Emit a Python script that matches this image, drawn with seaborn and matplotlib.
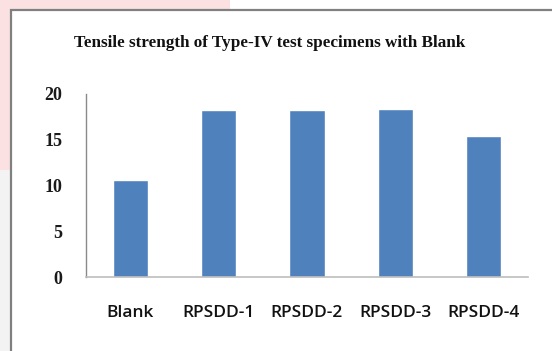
import matplotlib
matplotlib.use("Agg")
import matplotlib.pyplot as plt
import seaborn as sns
import pandas as pd
from matplotlib.patches import Rectangle

categories = ["Blank", "RPSDD-1", "RPSDD-2", "RPSDD-3", "RPSDD-4"]
values = [10.6, 18.2, 18.2, 18.35, 15.4]
yticks = [0, 5, 10, 15, 20]
title = "Tensile strength of Type-IV test specimens with Blank"

df = pd.DataFrame({"cat": categories, "val": values})

sns.set_style("white")
W, H = 552, 351
fig = plt.figure(figsize=(W / 100, H / 100), dpi=100)
fig.patch.set_facecolor("white")

# faint watermark-like background outside the chart frame
fig.patches.append(Rectangle((0, 1 - 10 / H), 230 / W, 10 / H, transform=fig.transFigure,
                             facecolor="#fbe1e1", edgecolor="none", zorder=0))
fig.patches.append(Rectangle((0, 1 - 170 / H), 11 / W, 170 / H, transform=fig.transFigure,
                             facecolor="#fbe1e1", edgecolor="none", zorder=0))
fig.patches.append(Rectangle((0, 0), 11 / W, 1 - 170 / H, transform=fig.transFigure,
                             facecolor="#f3f3f3", edgecolor="none", zorder=0))
# chart frame
fig.patches.append(Rectangle((11 / W, -0.05), 1.1, 1 - 10 / H + 0.05, transform=fig.transFigure,
                             facecolor="white", edgecolor="#808080", linewidth=1.6, zorder=1))

ax = fig.add_axes([86 / W, 1 - 277 / H, (528 - 86) / W, (277 - 94) / H])
ax.set_zorder(2)
ax.patch.set_alpha(0)
sns.barplot(data=df, x="cat", y="val", color="#4F81BD", width=0.4, saturation=1, ax=ax)
ax.set_xlim(-0.5, 4.5)
ax.set_ylim(0, 20)
ax.set_yticks(yticks)
ax.set_xlabel("")
ax.set_ylabel("")
for s in ["top", "right"]:
    ax.spines[s].set_visible(False)
ax.spines["left"].set_color("#8a8a8a")
ax.spines["left"].set_linewidth(1.0)
ax.spines["bottom"].set_color("#bdbdbd")
ax.spines["bottom"].set_linewidth(1.2)
ax.tick_params(axis="both", length=0)
ax.tick_params(axis="y", pad=17)
ax.tick_params(axis="x", pad=20)
for lab in ax.get_yticklabels():
    lab.set_fontfamily("Liberation Serif")
    lab.set_fontweight("bold")
    lab.set_fontsize(13)
    lab.set_color("#1a1a1a")
for lab in ax.get_xticklabels():
    lab.set_fontfamily("Open Sans")
    lab.set_fontweight("semibold")
    lab.set_fontsize(12.5)
    lab.set_color("#111111")

fig.text(270 / W, 1 - 43 / H, title, ha="center", va="center",
         fontfamily="Liberation Serif", fontweight="bold", fontsize=12.3, color="#111111", zorder=3)

fig.savefig("out.png", dpi=100)
